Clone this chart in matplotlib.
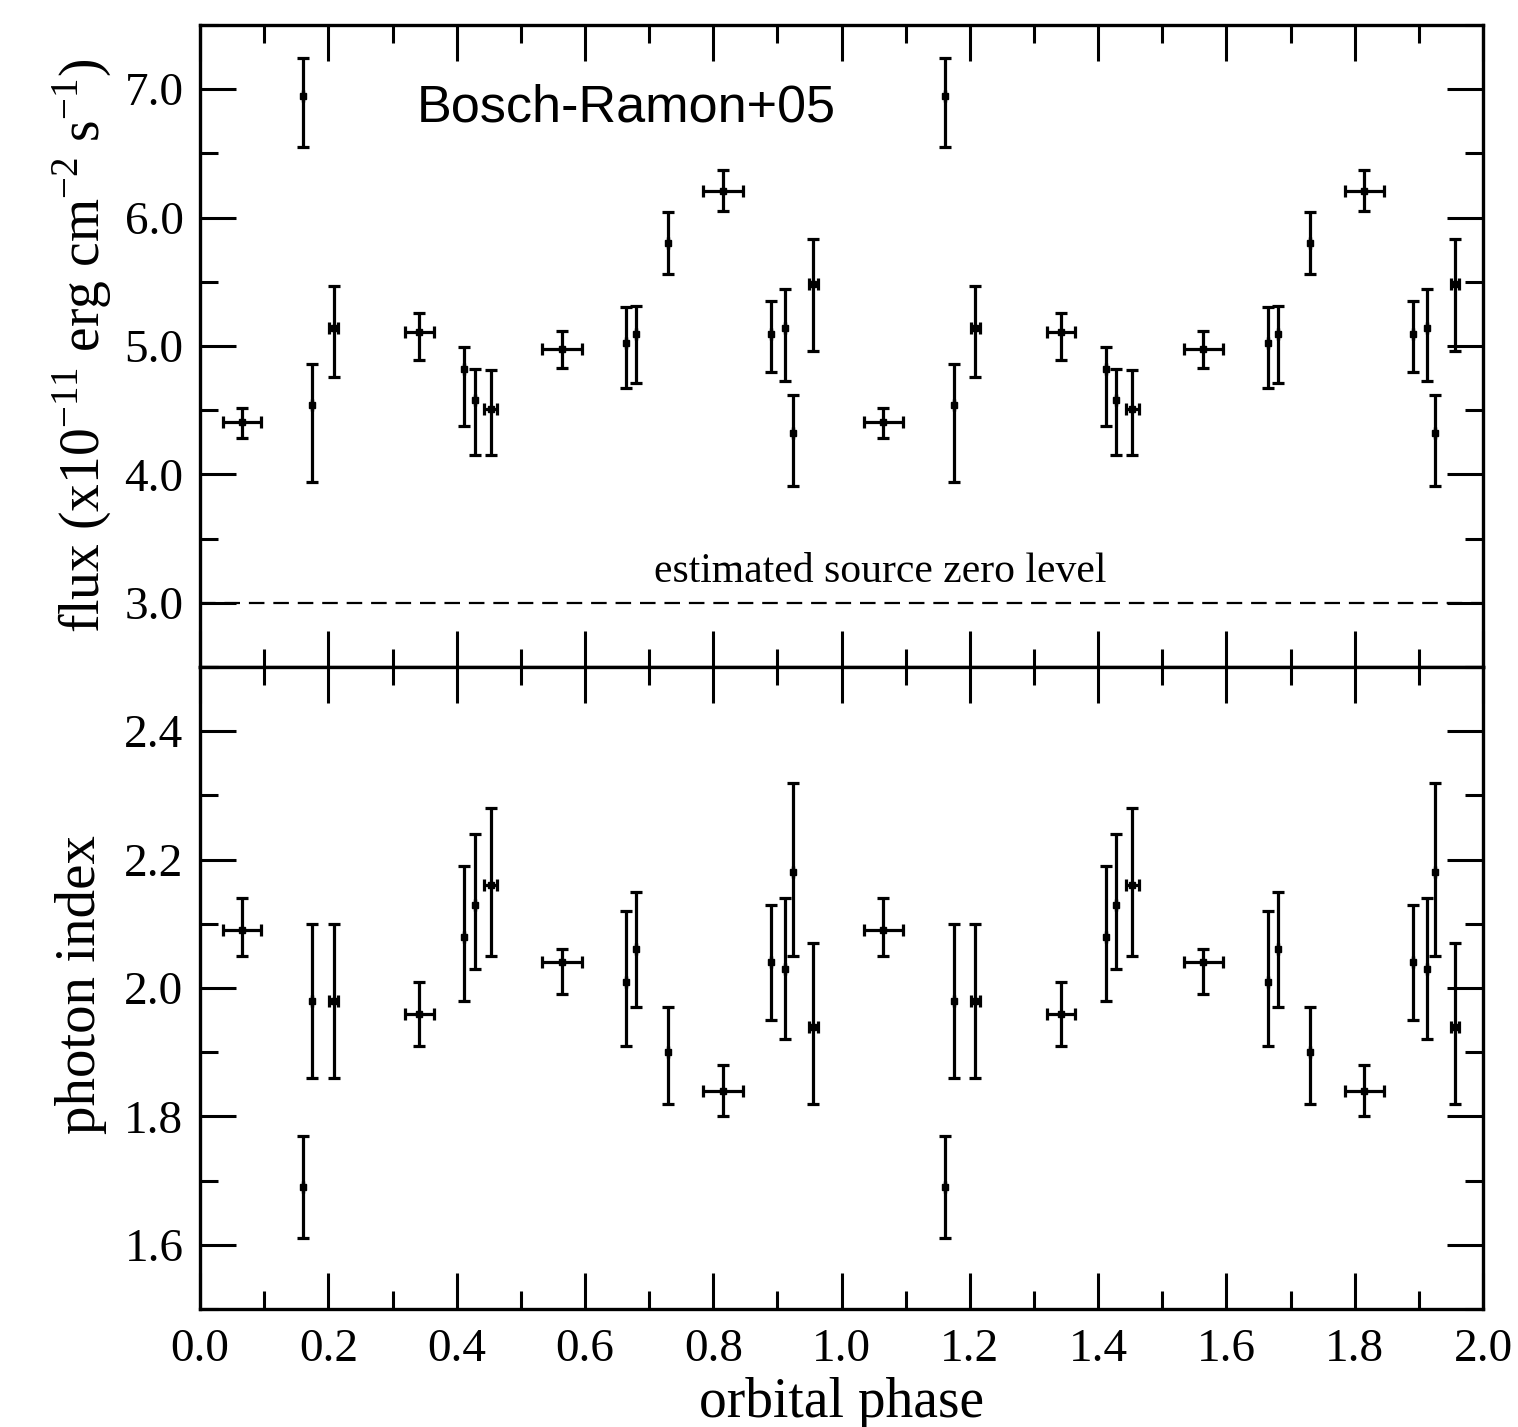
import numpy as np
import matplotlib
matplotlib.use("Agg")
from matplotlib import pyplot as plt
from matplotlib.ticker import MultipleLocator, FormatStrFormatter

plt.rcParams["font.family"] = ["Liberation Serif", "DejaVu Serif"]
plt.rcParams["mathtext.fontset"] = "custom"
plt.rcParams["mathtext.rm"] = "Liberation Serif"

# one orbital cycle, the plot shows it twice (phase and phase + 1)
phase = np.array([0.065, 0.161, 0.175, 0.208, 0.342, 0.412, 0.428, 0.453, 0.564,
                  0.664, 0.680, 0.730, 0.815, 0.890, 0.912, 0.925, 0.956])
phase_err = np.array([0.030, 0.0, 0.0, 0.007, 0.0225, 0.0, 0.0, 0.010, 0.031,
                      0.0, 0.0, 0.0, 0.031, 0.0, 0.0, 0.0, 0.0065])

# flux in 1e-11 erg cm^-2 s^-1
flux = np.array([4.41, 6.95, 4.54, 5.14, 5.11, 4.82, 4.58, 4.51, 4.98,
                 5.02, 5.09, 5.80, 6.21, 5.09, 5.14, 4.32, 5.48])
flux_lo = np.array([0.13, 0.40, 0.60, 0.38, 0.22, 0.44, 0.43, 0.36, 0.15,
                    0.35, 0.38, 0.24, 0.16, 0.29, 0.41, 0.41, 0.52])
flux_hi = np.array([0.11, 0.29, 0.32, 0.33, 0.15, 0.17, 0.24, 0.30, 0.14,
                    0.28, 0.22, 0.24, 0.16, 0.26, 0.30, 0.30, 0.35])

# photon index
gamma = np.array([2.09, 1.69, 1.98, 1.98, 1.96, 2.08, 2.13, 2.16, 2.04,
                  2.01, 2.06, 1.90, 1.84, 2.04, 2.03, 2.18, 1.94])
gamma_lo = np.array([0.04, 0.08, 0.12, 0.12, 0.05, 0.10, 0.10, 0.11, 0.05,
                     0.10, 0.09, 0.08, 0.04, 0.09, 0.11, 0.13, 0.12])
gamma_hi = np.array([0.05, 0.08, 0.12, 0.12, 0.05, 0.11, 0.11, 0.12, 0.02,
                     0.11, 0.09, 0.07, 0.04, 0.09, 0.11, 0.14, 0.13])

zero_level = 3.0

x = np.concatenate([phase, phase + 1.0])
xe = np.concatenate([phase_err, phase_err])


def two(a):
    return np.concatenate([a, a])


fig = plt.figure(figsize=(15.18, 14.27), dpi=100)
ax1 = fig.add_axes([0.1318, 0.5326, 0.8452, 0.4499])
ax2 = fig.add_axes([0.1318, 0.0827, 0.8452, 0.4499])

eb = dict(fmt="s", color="k", ms=4.5, elinewidth=2.3, capsize=4, capthick=2.3,
          ls="none")
ax1.errorbar(x, two(flux), yerr=[two(flux_lo), two(flux_hi)], xerr=xe, **eb)
ax2.errorbar(x, two(gamma), yerr=[two(gamma_lo), two(gamma_hi)], xerr=xe, **eb)

ax1.axhline(zero_level, color="k", lw=1.6, dashes=(7, 4))
ax1.text(1.06, 3.16, "estimated source zero level", ha="center", va="baseline",
         fontsize=30)
ax1.text(0.338, 6.745, "Bosch-Ramon+05", ha="left", va="baseline", fontsize=37.5,
         family=["Liberation Sans", "DejaVu Sans"])

ax1.set_xlim(0, 2.0)
ax2.set_xlim(0, 2.0)
ax1.set_ylim(2.5, 7.5)
ax2.set_ylim(1.5, 2.5)

for ax in (ax1, ax2):
    ax.xaxis.set_major_locator(MultipleLocator(0.2))
    ax.xaxis.set_minor_locator(MultipleLocator(0.1))
    ax.xaxis.set_major_formatter(FormatStrFormatter("%.1f"))
    ax.yaxis.set_major_formatter(FormatStrFormatter("%.1f"))
    ax.tick_params(which="both", direction="in", top=True, right=True,
                   width=2.2, labelsize=34)
    ax.tick_params(which="major", length=26)
    ax.tick_params(which="minor", length=13)
    ax.tick_params(axis="y", pad=12)
    ax.tick_params(axis="x", pad=14)
    for s in ax.spines.values():
        s.set_linewidth(2.4)

ax1.yaxis.set_minor_locator(MultipleLocator(0.5))
ax1.set_yticks([3.0, 4.0, 5.0, 6.0, 7.0])
ax1.tick_params(axis="x", labelbottom=False)

ax2.set_yticks([1.6, 1.8, 2.0, 2.2, 2.4])
ax2.yaxis.set_minor_locator(MultipleLocator(0.1))

ax1.set_ylabel("flux (x10$^{-11}$ erg cm$^{-2}$ s$^{-1}$)", fontsize=40)
ax1.yaxis.set_label_coords(-0.067, 0.5)
ax2.set_ylabel("photon index", fontsize=41)
ax2.yaxis.set_label_coords(-0.0725, 0.505)
ax2.set_xlabel("orbital phase", fontsize=40)
ax2.xaxis.set_label_coords(0.5, -0.106)

fig.savefig("out.png", dpi=100)
